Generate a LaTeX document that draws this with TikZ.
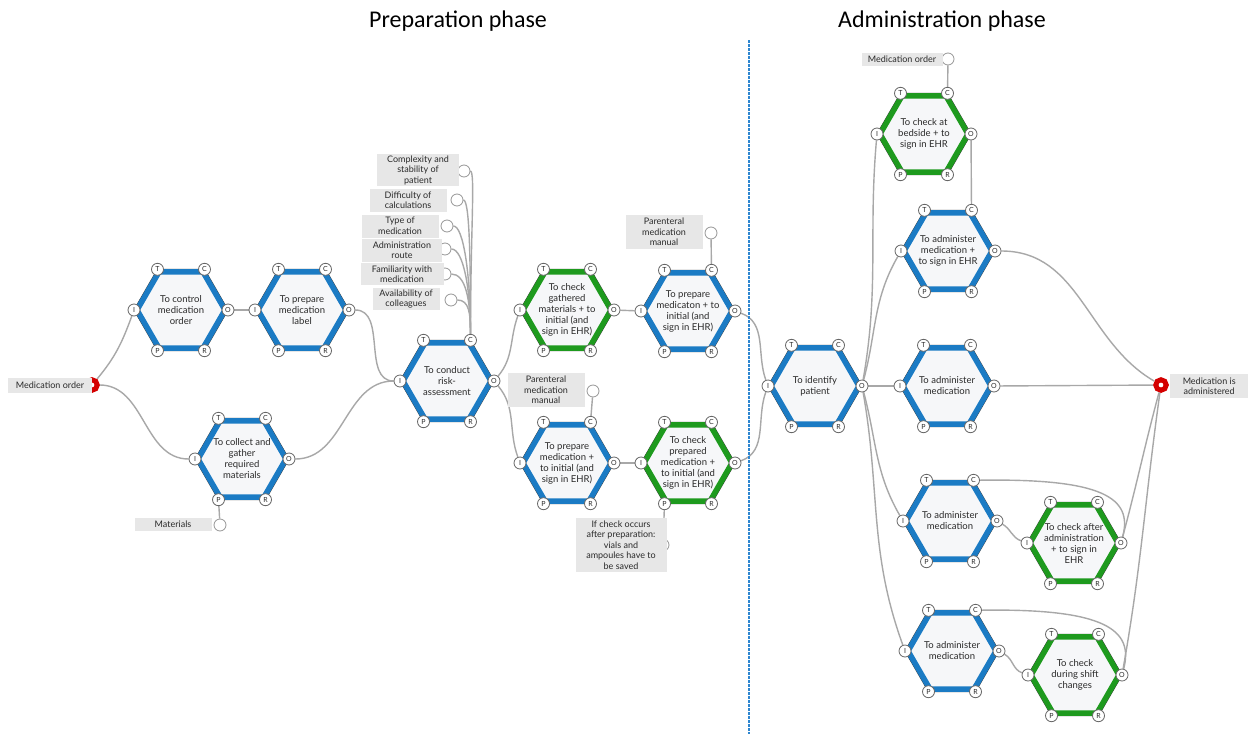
\documentclass[tikz,border=0pt]{standalone}
\usepackage{fontspec}
\setmainfont{Carlito}
\newfontfamily\lblfont{Lato}
\usetikzlibrary{backgrounds}

\definecolor{fblue}{HTML}{1B7BC4}
\definecolor{fgreen}{HTML}{1E9A1E}
\definecolor{hexfill}{HTML}{F6F7F9}
\definecolor{rimgray}{HTML}{3A3A3A}
\definecolor{linkgray}{HTML}{A8A8A8}
\definecolor{boxgray}{HTML}{E7E7E7}
\definecolor{txtgray}{HTML}{2A2A2A}
\definecolor{ringred}{HTML}{D40000}
\definecolor{phaseblue}{HTML}{2E86D0}

\tikzset{
  hexrim/.style={draw=rimgray, line width=1pt, fill=hexfill, line join=miter},
  fntext/.style={align=center, font=\lblfont\fontsize{9.5}{11}\selectfont, text=txtgray, inner sep=0pt},
  aspect/.style={circle, draw=gray!80!black, fill=white, line width=0.8pt, inner sep=0pt,
    minimum size=12pt, font=\lblfont\fontsize{7}{7}\selectfont, text=txtgray},
  res/.style={circle, draw=linkgray!90!black, fill=white, line width=0.8pt, inner sep=0pt, minimum size=12pt},
  lbl/.style={fill=boxgray, align=center, inner sep=1pt, font=\lblfont\fontsize{9}{10.5}\selectfont, text=txtgray},
  link/.style={draw=linkgray, line width=1.4pt},
  ring/.style={circle, draw=ringred, line width=5pt, fill=white, inner sep=0pt, minimum size=10.5pt},
  phase/.style={font=\fontsize{24}{28}\selectfont, text=black},
}

% one FRAM function: name, centre x, centre y, colour, text
\newcommand\framfn[5]{%
  \begin{scope}[shift={(#2,#3)}]
    \draw[hexrim] (-47,0) -- (-23.5,-40.7) -- (23.5,-40.7) -- (47,0) -- (23.5,40.7) -- (-23.5,40.7) -- cycle;
    \draw[draw=#4, line width=5.5pt, line join=miter] (-44,0) -- (-22,-38.1) -- (22,-38.1)
      -- (44,0) -- (22,38.1) -- (-22,38.1) -- cycle;
    \node[fntext] (#1) at (0,0) {#5};
    \node[aspect] (#1-T) at (-23.5,-40.7) {T};
    \node[aspect] (#1-C) at (23.5,-40.7) {C};
    \node[aspect] (#1-I) at (-47,0) {I};
    \node[aspect] (#1-O) at (47,0) {O};
    \node[aspect] (#1-P) at (-23.5,40.7) {P};
    \node[aspect] (#1-R) at (23.5,40.7) {R};
  \end{scope}}

\begin{document}
\begin{tikzpicture}[x=1pt,y=-1pt]
\useasboundingbox (0,0) rectangle (1248,734);
\begin{scope}[on background layer]
  \fill[white] (0,0) rectangle (1248,734);
\end{scope}

% phase titles and divider
\node[phase] (prep) at (458,21) {Preparation phase};
\node[phase] (admin) at (942,21) {Administration phase};
\coordinate (divtop) at (749,40);
\coordinate (divbot) at (749,734);
\draw[phaseblue, line width=1.3pt, dash pattern=on 2.5pt off 1.5pt] (divtop) -- (divbot);

% functions
\framfn{h1}{181}{310}{fblue}{To control\\medication\\order}
\framfn{h2}{302}{310}{fblue}{To prepare\\medication\\label}
\framfn{h3}{242}{459}{fblue}{To collect and\\gather\\required\\materials}
\framfn{h4}{447}{381}{fblue}{To conduct\\risk-\\assessment}
\framfn{h5}{567}{310}{fgreen}{To check\\gathered\\materials + to\\initial (and\\sign in EHR)}
\framfn{h6}{688}{311}{fblue}{To prepare\\medicaton + to\\initial (and\\sign in EHR)}
\framfn{h7}{567}{463}{fblue}{To prepare\\medication +\\to initial (and\\sign in EHR)}
\framfn{h8}{688}{463}{fgreen}{To check\\prepared\\medication +\\to initial (and\\sign in EHR)}
\framfn{h9}{815}{386}{fblue}{To identify\\patient}
\framfn{h10}{924}{134}{fgreen}{To check at\\bedside + to\\sign in EHR}
\framfn{h11}{948}{251}{fblue}{To administer\\medication +\\to sign in EHR}
\framfn{h12}{947}{386}{fblue}{To administer\\medication}
\framfn{h13}{950}{521}{fblue}{To administer\\medication}
\framfn{h14}{1074}{543}{fgreen}{To check after\\administration\\+ to sign in\\EHR}
\framfn{h15}{952}{651}{fblue}{To administer\\medication}
\framfn{h16}{1075}{675}{fgreen}{To check\\during shift\\changes}

% start and end
\node[ring] (start) at (92,385) {};
\node[lbl, minimum width=84, minimum height=15] (startlbl) at (50,385) {Medication order};
\node[ring] (finish) at (1161,385) {};
\node[lbl, minimum width=78, minimum height=24, anchor=west] (finishlbl) at (1170,386) {Medication is\\administered};

% resources and controls
\node[res] (mat) at (220,525) {};
\node[lbl, minimum width=77, minimum height=13] (matlbl) at (173,524) {Materials};

\node[res] (rf1) at (464,171) {};
\node[res] (rf2) at (457,200) {};
\node[res] (rf3) at (447,226) {};
\node[res] (rf4) at (445,249) {};
\node[res] (rf5) at (445,274) {};
\node[res] (rf6) at (451,300) {};
\node[lbl, minimum width=82, minimum height=32] (rf1lbl) at (418,170) {Complexity and\\stability of\\patient};
\node[lbl, minimum width=77, minimum height=23] (rf2lbl) at (408,200) {Difficulty of\\calculations};
\node[lbl, minimum width=77, minimum height=23] (rf3lbl) at (400,226) {Type of\\medication};
\node[lbl, minimum width=80, minimum height=23] (rf4lbl) at (402,250) {Administration\\route};
\node[lbl, minimum width=83, minimum height=22] (rf5lbl) at (402,274) {Familiarity with\\medication};
\node[lbl, minimum width=67, minimum height=22] (rf6lbl) at (406,299) {Availability of\\colleagues};

\node[res] (pm1) at (711,233) {};
\node[lbl, minimum width=77, minimum height=34] (pm1lbl) at (664,232) {Parenteral\\medication\\manual};
\node[res] (pm2) at (593,391) {};
\node[lbl, minimum width=77, minimum height=34] (pm2lbl) at (546,390) {Parenteral\\medication\\manual};

\node[res] (vials) at (663,545) {};
\node[lbl, minimum width=91, minimum height=54] (vialslbl) at (621,545) {If check occurs\\after preparation:\\vials and\\ampoules have to\\be saved};

\node[res] (mo2) at (948,59) {};
\node[lbl, minimum width=81, minimum height=13] (mo2lbl) at (902,59) {Medication order};

% couplings
\begin{scope}[on background layer]
  \draw[link] (start) to[out=50,in=250] (h1-I);
  \draw[link] (start) to[out=0,in=180] (h3-I);
  \draw[link] (h1-O) -- (h2-I);
  \draw[link] (h2-O) to[out=0,in=180] (h4-I);
  \draw[link] (h3-O) to[out=0,in=180] (h4-I);
  \draw[link] (mat) -- (h3-P);

  \draw[link] (rf1.east) .. controls +(5,0) and +(0,-100) .. (h4-C.north);
  \draw[link] (rf2.east) .. controls +(6,0) and +(0,-80) .. (h4-C.north);
  \draw[link] (rf3.east) .. controls +(10,0) and +(0,-60) .. (h4-C.north);
  \draw[link] (rf4.east) .. controls +(12,0) and +(0,-45) .. (h4-C.north);
  \draw[link] (rf5.east) .. controls +(14,0) and +(0,-35) .. (h4-C.north);
  \draw[link] (rf6.east) .. controls +(12,0) and +(0,-20) .. (h4-C.north);

  \draw[link] (h4-O) to[out=50,in=250] (h5-I);
  \draw[link] (h4-O) to[out=-50,in=110] (h7-I);
  \draw[link] (h5-O) -- (h6-I);
  \draw[link] (h7-O) -- (h8-I);
  \draw[link] (pm1) -- (h6-C);
  \draw[link] (pm2) -- (h7-C);
  \draw[link] (vials) -- (h8-P);

  \draw[link] (h6-O) to[out=-20,in=110] (h9-I);
  \draw[link] (h8-O) to[out=20,in=250] (h9-I);

  \draw[link] (h9-O) to[out=80,in=265] (h10-I);
  \draw[link] (h9-O) to[out=75,in=240] (h11-I);
  \draw[link] (h9-O) -- (h12-I);
  \draw[link] (h9-O) to[out=-75,in=120] (h13-I);
  \draw[link] (h9-O) to[out=-80,in=110] (h15-I);

  \draw[link] (mo2) -- (h10-C);
  \draw[link] (h10-O) -- (h11-C);
  \draw[link] (h11-O) to[out=0,in=150] (finish);
  \draw[link] (h12-O) -- (finish);
  \draw[link] (h13-O) to[out=-30,in=160] (h14-I);
  \draw[link] (h13-C) .. controls +(130,-2) and +(12,-45) .. (h14-O);
  \draw[link] (h14-O) to[out=75,in=255] (finish);
  \draw[link] (h15-O) to[out=-30,in=160] (h16-I);
  \draw[link] (h15-C) .. controls +(130,-2) and +(12,-45) .. (h16-O);
  \draw[link] (h16-O) to[out=80,in=262] (finish);
\end{scope}
\end{tikzpicture}
\end{document}
